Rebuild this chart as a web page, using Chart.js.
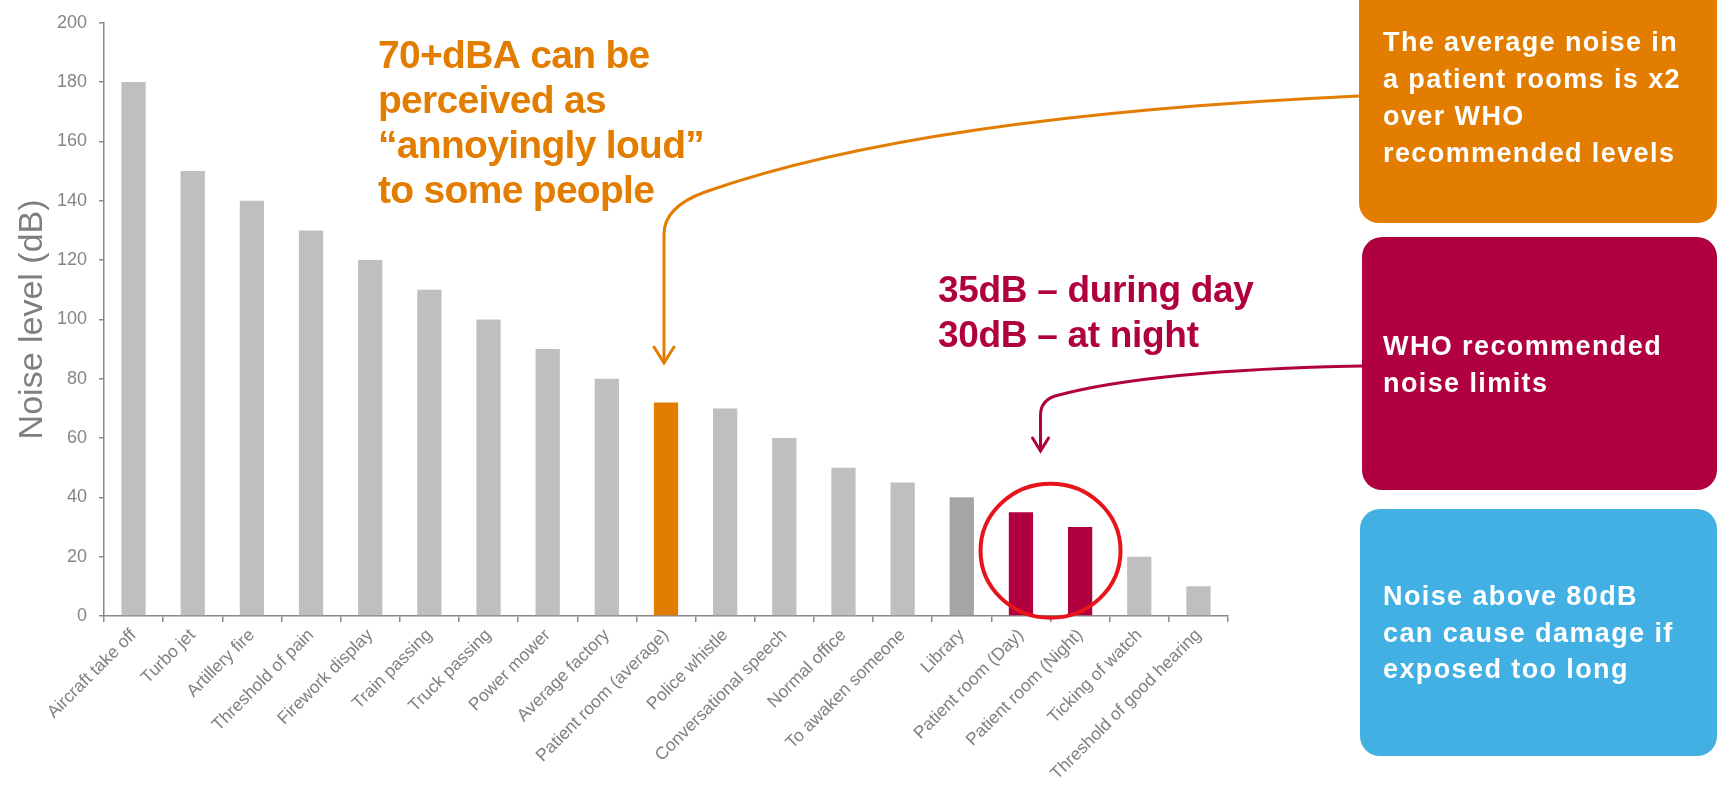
<!DOCTYPE html>
<html>
<head>
<meta charset="utf-8">
<script src="https://cdn.jsdelivr.net/npm/chart.js@4.4.1/dist/chart.umd.min.js"></script>
<style>
  html, body { margin: 0; padding: 0; background: #fff; overflow: hidden; }
</style>
</head>
<body>
<canvas id="noiseChart" width="1717" height="797"></canvas>
<script>
// data
const categories = [
  'Aircraft take off', 'Turbo jet', 'Artillery fire', 'Threshold of pain',
  'Firework display', 'Train passing', 'Truck passing', 'Power mower',
  'Average factory', 'Patient room (average)', 'Police whistle',
  'Conversational speech', 'Normal office', 'To awaken someone', 'Library',
  'Patient room (Day)', 'Patient room (Night)', 'Ticking of watch',
  'Threshold of good hearing'
];
const noiseLevels = [180, 150, 140, 130, 120, 110, 100, 90, 80, 72, 70, 60, 50, 45, 40, 35, 30, 20, 10];
const barGroups = ['other', 'other', 'other', 'other', 'other', 'other', 'other', 'other', 'other',
  'patient', 'other', 'other', 'other', 'other', 'library', 'who', 'who', 'other', 'other'];
const yMin = 0, yMax = 200, yStep = 20;

const orangeNote = ['70+dBA can be', 'perceived as', '\u201Cannoyingly loud\u201D', 'to some people'];
const whoNote = ['35dB \u2013 during day', '30dB \u2013 at night'];
const boxTexts = [
  ['The average noise in', 'a patient rooms is x2', 'over WHO', 'recommended levels'],
  ['WHO recommended', 'noise limits'],
  ['Noise above 80dB', 'can cause damage if', 'exposed too long']
];

const ORANGE = '#E27D00';
const CRIMSON = '#B0003F';
const BLUE = '#42B0E3';
const groupColors = { other: '#BFBFBF', library: '#A5A5A5', patient: ORANGE, who: CRIMSON };
const FONT = '"Liberation Sans", Arial, sans-serif';

Chart.defaults.font.family = FONT;

function drawLines(ctx, lines, x, baselines) {
  lines.forEach((t, i) => ctx.fillText(t, x, baselines[i]));
}

function arrowHead(ctx, x, y, w, h) {
  ctx.beginPath();
  ctx.moveTo(x - w, y - h);
  ctx.lineTo(x, y);
  ctx.lineTo(x + w, y - h);
  ctx.stroke();
}

const annotations = {
  id: 'annotations',
  afterDraw(chart) {
    const ctx = chart.ctx;
    const xs = chart.scales.x, ys = chart.scales.y;
    ctx.save();

    // side boxes
    ctx.fillStyle = ORANGE;
    ctx.beginPath(); ctx.roundRect(1359, -30, 358, 253, 20); ctx.fill();
    ctx.fillStyle = CRIMSON;
    ctx.beginPath(); ctx.roundRect(1362, 237, 355, 253, 20); ctx.fill();
    ctx.fillStyle = BLUE;
    ctx.beginPath(); ctx.roundRect(1360, 509, 357, 247, 20); ctx.fill();

    ctx.fillStyle = '#fff';
    ctx.font = 'bold 27px ' + FONT;
    ctx.letterSpacing = '1.4px';
    ctx.textBaseline = 'alphabetic';
    ctx.textAlign = 'left';
    drawLines(ctx, boxTexts[0], 1383, [51, 88, 125, 162]);
    drawLines(ctx, boxTexts[1], 1383, [355, 392]);
    drawLines(ctx, boxTexts[2], 1383, [605, 642, 678]);

    // orange callout
    ctx.letterSpacing = '-0.7px';
    ctx.fillStyle = ORANGE;
    ctx.font = 'bold 39px ' + FONT;
    drawLines(ctx, orangeNote, 378, [68, 113, 158, 203]);

    const px = xs.getPixelForValue(9) - 2;
    ctx.strokeStyle = ORANGE;
    ctx.lineWidth = 3;
    ctx.lineCap = 'round';
    ctx.beginPath();
    ctx.moveTo(1359, 96);
    ctx.quadraticCurveTo(920, 116, 705, 192);
    ctx.quadraticCurveTo(px, 207, px, 234);
    ctx.lineTo(px, 362);
    ctx.stroke();
    arrowHead(ctx, px, 363, 10, 16);

    // WHO callout
    ctx.letterSpacing = '-0.3px';
    ctx.fillStyle = CRIMSON;
    ctx.font = 'bold 37px ' + FONT;
    drawLines(ctx, whoNote, 938, [302, 347]);

    const cx = (xs.getPixelForValue(15) + xs.getPixelForValue(16)) / 2;
    const ax = cx - 10;
    ctx.strokeStyle = CRIMSON;
    ctx.beginPath();
    ctx.moveTo(1362, 366);
    ctx.quadraticCurveTo(1150, 370, 1055, 396);
    ctx.quadraticCurveTo(ax, 401, ax, 415);
    ctx.lineTo(ax, 450);
    ctx.stroke();
    arrowHead(ctx, ax, 451, 8, 13);

    // red ring round the WHO bars
    ctx.strokeStyle = '#E8141C';
    ctx.lineWidth = 4;
    ctx.beginPath();
    ctx.ellipse(cx, ys.getPixelForValue(22), 70, 67, 0, 0, Math.PI * 2);
    ctx.stroke();

    ctx.restore();
  }
};

new Chart(document.getElementById('noiseChart'), {
  type: 'bar',
  data: {
    labels: categories,
    datasets: [{
      data: noiseLevels,
      backgroundColor: barGroups.map(g => groupColors[g]),
      barPercentage: 0.41,
      categoryPercentage: 1
    }]
  },
  options: {
    responsive: false,
    animation: false,
    devicePixelRatio: 1,
    layout: { padding: { top: 16, right: 489, left: 0, bottom: 0 } },
    plugins: { legend: { display: false }, tooltip: { enabled: false } },
    scales: {
      x: {
        afterFit(scale) { scale.height = 181; },
        grid: { display: true, drawOnChartArea: false, drawTicks: true, tickLength: 6, color: '#8a8a8a', lineWidth: 1.5, offset: true },
        border: { display: true, color: '#8a8a8a', width: 1.5 },
        ticks: { autoSkip: false, minRotation: 45, maxRotation: 45, padding: 3, color: '#808080', font: { size: 17.5 } }
      },
      y: {
        min: yMin,
        max: yMax,
        afterFit(scale) { scale.width = 104; },
        grid: { display: true, drawOnChartArea: false, drawTicks: true, tickLength: 5, color: '#8a8a8a', lineWidth: 1.5 },
        border: { display: true, color: '#8a8a8a', width: 1.5 },
        ticks: { stepSize: yStep, padding: 12, color: '#858585', font: { size: 18 } },
        title: { display: true, text: 'Noise level (dB)', color: '#7f7f7f', font: { size: 34 }, padding: { top: 12, bottom: 0 } }
      }
    }
  },
  plugins: [annotations]
});
</script>
</body>
</html>
